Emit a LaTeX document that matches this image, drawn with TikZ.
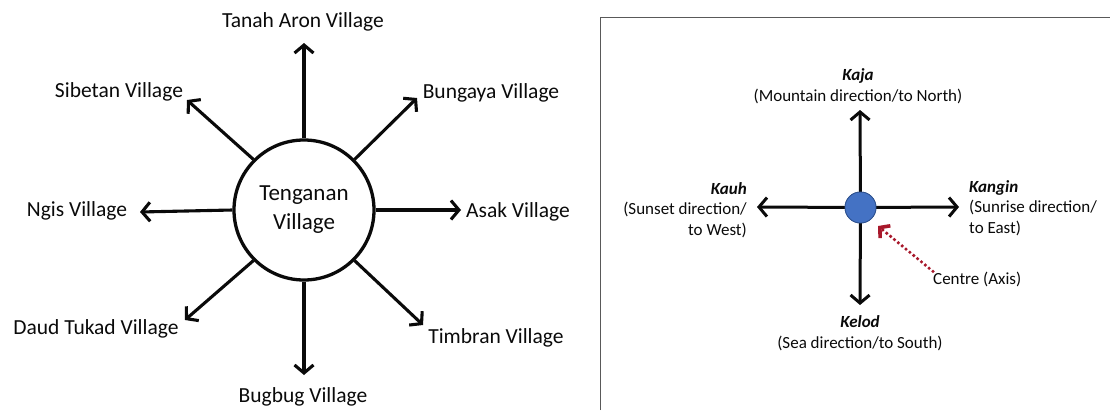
\documentclass[tikz,border=0pt]{standalone}
\usepackage{fontspec}
\setmainfont{Carlito}
\usetikzlibrary{arrows.meta}
\definecolor{dotblue}{HTML}{4472C4}
\definecolor{dotedge}{HTML}{2F528F}
\definecolor{axisred}{HTML}{A8182B}
\definecolor{framegray}{HTML}{595959}
\definecolor{ink}{HTML}{0A0A0A}

\begin{document}
\begin{tikzpicture}[x=1pt,y=-1pt,
  spoke/.style={ink,line width=3.1pt,-{Straight Barb[length=8pt,width=19pt]}},
  vlabel/.style={ink,font=\fontsize{21.5}{26}\selectfont,inner sep=0pt},
  hub/.style={circle,draw=ink,line width=3.3pt,minimum size=140pt,inner sep=0pt,
    align=center,font=\fontsize{23}{29}\selectfont,text=ink},
  dirlabel/.style={ink,font=\fontsize{17}{20.5}\selectfont,inner sep=0pt},
  axisdot/.style={circle,fill=dotblue,draw=dotedge,line width=0.8pt,minimum size=31pt,inner sep=0pt},
  compass/.style={ink,line width=3pt,-{Straight Barb[length=8pt,width=19pt]}},
  pointer/.style={axisred,line width=3.6pt,line cap=round,dash pattern=on 0pt off 5pt,
    -{Straight Barb[length=7pt,width=16pt]}}
]
\useasboundingbox (0,0) rectangle (1110,410);

% ---- village map ----
\node[hub] (tv) at (304,210) {Tenganan\\Village};

\coordinate (tN)  at (304,43);
\coordinate (tNE) at (417,98);
\coordinate (tE)  at (461,210);
\coordinate (tSE) at (423,325);
\coordinate (tS)  at (304,375);
\coordinate (tSW) at (185,320);
\coordinate (tW)  at (140,212);
\coordinate (tNW) at (187,100);

\draw[spoke] (tv.90)  -- (tN);
\draw[spoke] (tv.45)  -- (tNE);
\draw[spoke] (tv.0)   -- (tE);
\draw[spoke] (tv.-45) -- (tSE);
\draw[spoke] (tv.-90) -- (tS);
\draw[spoke] (tv.-135) -- (tSW);
\draw[spoke] (tv.180) -- (tW);
\draw[spoke] (tv.135) -- (tNW);

\node[vlabel] (lN)  at (303,22)  {Tanah Aron Village};
\node[vlabel] (lNE) at (491,93)  {Bungaya Village};
\node[vlabel] (lE)  at (518,212) {Asak Village};
\node[vlabel] (lSE) at (496,338) {Timbran Village};
\node[vlabel] (lS)  at (303,397) {Bugbug Village};
\node[vlabel] (lSW) at (96,329)  {Daud Tukad Village};
\node[vlabel] (lW)  at (77,211)  {Ngis Village};
\node[vlabel] (lNW) at (119,92)  {Sibetan Village};

% ---- cardinal directions panel ----
\draw[framegray,line width=1.3pt] (600.5,410) -- (600.5,17.5) -- (1110,17.5);

\coordinate (cN) at (860,110);
\coordinate (cS) at (860,305);
\coordinate (cW) at (757,207);
\coordinate (cE) at (959,207);

\node[axisdot] (axis) at (860.5,207.5) {};
\draw[compass] (axis.center) -- (cN);
\draw[compass] (axis.center) -- (cS);
\draw[compass] (axis.center) -- (cW);
\draw[compass] (axis.center) -- (cE);
\node[axisdot] at (axis.center) {};

\node[dirlabel,align=center] (kaja) at (858,86)
  {\textbf{\textit{Kaja}}\\(Mountain direction/to North)};
\node[dirlabel,align=center] (kelod) at (860,333)
  {\textbf{\textit{Kelod}}\\(Sea direction/to South)};
\node[dirlabel,align=right,anchor=east] (kauh) at (747,210)
  {\textbf{\textit{Kauh}}\\(Sunset direction/\\to West)};
\node[dirlabel,align=left,anchor=west] (kangin) at (969,208)
  {\textbf{\textit{Kangin}}\\(Sunrise direction/\\to East)};

\node[dirlabel,anchor=west] (centre) at (933,279) {Centre (Axis)};
\coordinate (ctip) at (878,226);
\draw[pointer] (centre.north west) -- (ctip);
\end{tikzpicture}
\end{document}
